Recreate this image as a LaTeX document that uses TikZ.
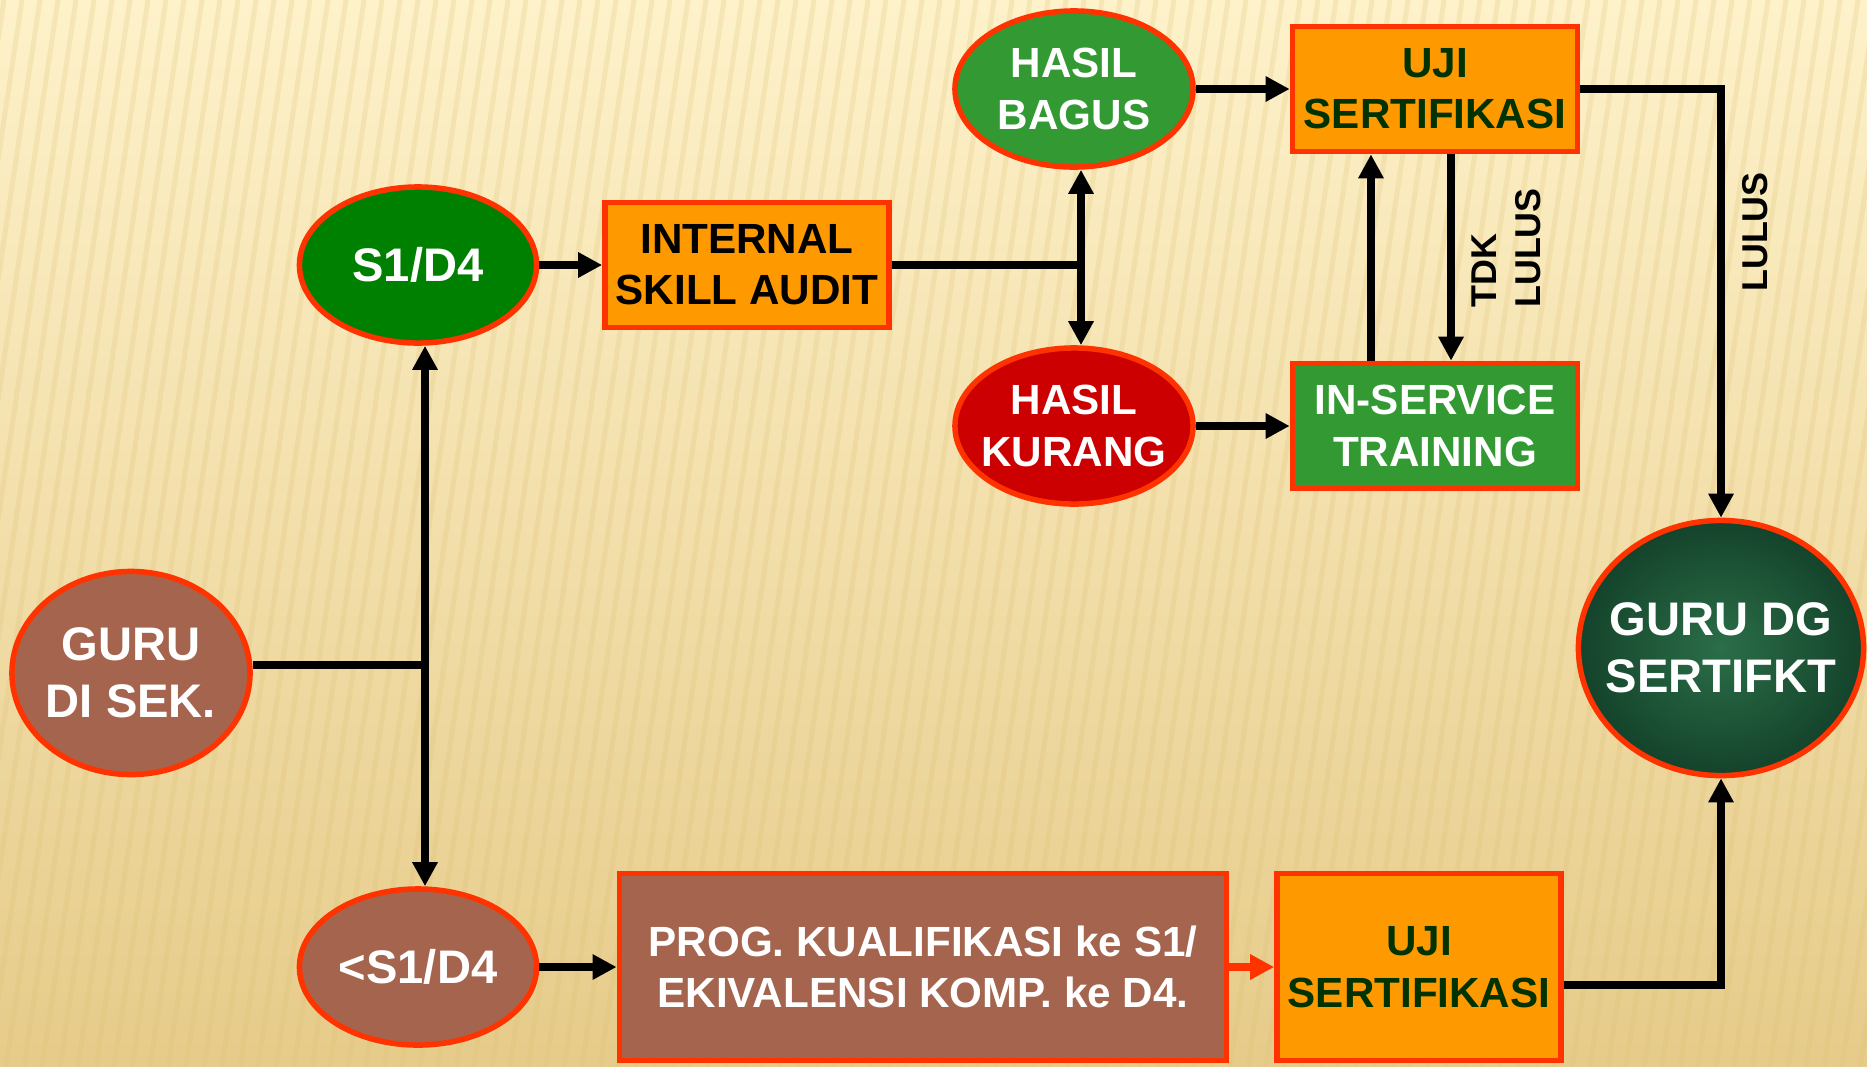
\documentclass[tikz,border=0pt]{standalone}
\usepackage{fontspec}
\setmainfont{Liberation Sans}
\usetikzlibrary{arrows.meta,shapes.geometric}

\definecolor{edgered}{HTML}{FF3300}
\definecolor{boxorange}{HTML}{FF9900}
\definecolor{deepgreen}{HTML}{008000}
\definecolor{midgreen}{HTML}{339933}
\definecolor{badred}{HTML}{CC0000}
\definecolor{clay}{HTML}{A5644E}
\definecolor{ujitext}{HTML}{003300}
\definecolor{marbleL}{HTML}{2B6E48}
\definecolor{marbleD}{HTML}{14432B}
\definecolor{bgtop}{HTML}{FEF2CA}
\definecolor{bgbot}{HTML}{E6CB8A}
\definecolor{stripe}{HTML}{DDBF72}

\newcommand{\bigfont}{\bfseries\fontsize{13.4pt}{16.3pt}\selectfont}
\newcommand{\midfont}{\bfseries\fontsize{12pt}{14.6pt}\selectfont}
\newcommand{\tagfont}{\bfseries\fontsize{10.2pt}{12.5pt}\selectfont}

\tikzset{
  oval/.style={ellipse, draw=edgered, line width=0.055cm, inner xsep=-0.15cm,
               inner ysep=0pt, align=center, text=white, font=\bigfont},
  box/.style={rectangle, draw=edgered, line width=0.055cm, inner sep=0pt,
              align=center, font=\midfont},
  tag/.style={rotate=90, align=left, font=\tagfont}
}

\begin{document}
\begin{tikzpicture}[x=0.01cm, y=-0.01cm]
\useasboundingbox (0,0) rectangle (1867,1066);

% background
\shade[top color=bgtop, bottom color=bgbot] (0,0) rectangle (1867,1066);
\foreach \x in {-300,-282,...,1867}
    \draw[stripe, line width=0.05cm, opacity=0.22] (\x+160,0) -- (\x,1066);

\begin{scope}
    \node[oval, fill=clay, minimum width=2.38cm, minimum height=2.03cm] (guru) at (131,673) {GURU\\DI SEK.};
    \node[oval, fill=deepgreen, minimum width=2.37cm, minimum height=1.56cm] (s1) at (418,265) {S1/D4};
    \node[oval, fill=clay, minimum width=2.37cm, minimum height=1.56cm] (less) at (418,967) {<S1/D4};
    \node[box, fill=boxorange, minimum width=2.84cm, minimum height=1.25cm] (isa) at (747,265) {INTERNAL\\SKILL AUDIT};
    \node[oval, fill=midgreen, font=\midfont, minimum width=2.38cm, minimum height=1.56cm] (bagus) at (1074,89) {HASIL\\BAGUS};
    \node[oval, fill=badred, font=\midfont, minimum width=2.38cm, minimum height=1.56cm] (kurang) at (1074,426) {HASIL\\KURANG};
    \node[box, fill=boxorange, text=ujitext, minimum width=2.85cm, minimum height=1.25cm] (uji1) at (1435,89) {UJI\\SERTIFIKASI};
    \node[box, fill=midgreen, text=white, minimum width=2.85cm, minimum height=1.25cm] (ist) at (1435,426) {IN-SERVICE\\TRAINING};
    \node[oval, draw=edgered, inner color=marbleL, outer color=marbleD, minimum width=2.85cm, minimum height=2.55cm] (gds) at (1721,648) {GURU DG\\SERTIFKT};
    \node[box, fill=clay, text=white, minimum width=6.07cm, minimum height=1.87cm] (prog) at (923,967) {PROG. KUALIFIKASI ke S1/\\EKIVALENSI KOMP. ke D4.};
    \node[box, fill=boxorange, text=ujitext, minimum width=2.84cm, minimum height=1.87cm] (uji2) at (1419,967) {UJI\\SERTIFIKASI};
\end{scope}

\coordinate (jl) at (425,665);
\coordinate (jr) at (1081,265);

\begin{scope}[>={Triangle[length=0.24cm,width=0.24cm]},
              every path/.style={line width=0.08cm}]
    \draw (guru.east |- jl) -- (jl);
    \draw[->] (jl) -- (s1.south -| jl);
    \draw[->] (jl) -- (less.north -| jl);
    \draw[->] (s1) -- (isa);
    \draw (isa) -- (jr);
    \draw[->] (jr) -- (bagus.south -| jr);
    \draw[->] (jr) -- (kurang.north -| jr);
    \draw[->] (bagus) -- (uji1);
    \draw[->] (kurang) -- (ist);
    \draw[->] ([xshift=-0.64cm]ist.north) -- ([xshift=-0.64cm]uji1.south);
    \draw[->] ([xshift=0.16cm]uji1.south) -- ([xshift=0.16cm]ist.north);
    \draw[->] (uji1.east) -| (gds.north);
    \draw[->] (less) -- (prog);
    \draw[->, edgered] (prog) -- (uji2);
    \draw[->] ([yshift=-0.175cm]uji2.east) -| (gds.south);
\end{scope}

\node[tag] (tdk) at (1506,248) {TDK\\LULUS};
\node[tag] (lulus) at (1755,232) {LULUS};
\end{tikzpicture}
\end{document}
